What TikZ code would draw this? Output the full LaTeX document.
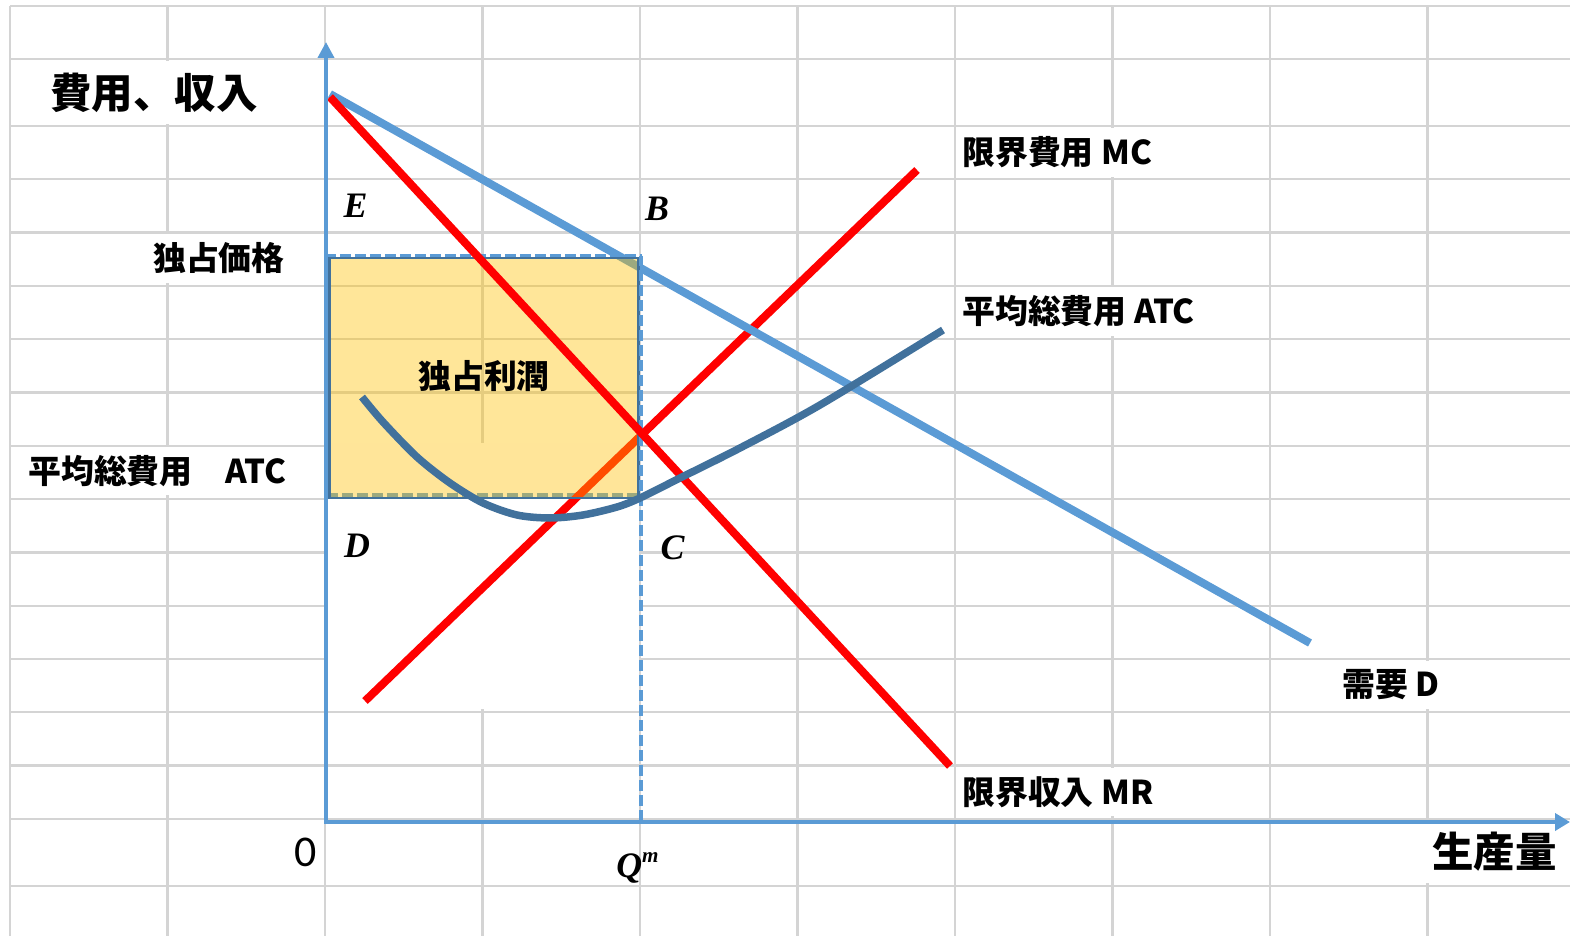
\documentclass[tikz,border=0pt]{standalone}
\usepackage{fontspec}
\newfontfamily\jpfont{Noto Sans CJK JP}
\newfontfamily\tmfont{Liberation Serif}
\newfontfamily\clfont{Carlito}
\usetikzlibrary{arrows.meta}
\definecolor{gridgray}{HTML}{D4D4D4}
\definecolor{axisblue}{HTML}{5B9BD5}
\definecolor{atcblue}{HTML}{41719C}
\definecolor{profitgold}{HTML}{FFC000}

\begin{document}
\begin{tikzpicture}[x=0.02cm,y=-0.02cm,
  cell/.style={fill=white,inner xsep=0.1cm,inner ysep=0pt,minimum height=0.98cm,font=\jpfont\bfseries\fontsize{18.7}{20}\selectfont},
  bigcell/.style={cell,minimum height=1.26cm,font=\jpfont\bfseries\fontsize{23.6}{26}\selectfont},
  ptlabel/.style={anchor=base,inner sep=0pt,font=\tmfont\bfseries\itshape\fontsize{20.4}{22}\selectfont},
  curve/.style={line width=0.16cm},
  guide/.style={axisblue,line width=0.07cm,dash pattern=on 0.22cm off 0.08cm},
  axis/.style={axisblue,line width=0.075cm}]
\useasboundingbox (0,0) rectangle (1570,936);
% sheet grid
\foreach \gx in {0,...,9} \draw[gridgray,line width=0.045cm] ({10+157.5*\gx},6) -- ({10+157.5*\gx},936);
\foreach \gy in {6,59,886} \draw[gridgray,line width=0.045cm] (10,\gy) -- (1570,\gy);
\foreach \gk in {0,...,13} \draw[gridgray,line width=0.045cm] (10,{126+53.3*\gk}) -- (1570,{126+53.3*\gk});
\fill[white] (327,443) rectangle (639,709);
% cell texts
\node[bigcell,anchor=west] (cost) at (45,92.5) {費用、収入};
\node[cell,anchor=east] (pmono) at (290,258.5) {独占価格};
\node[cell,anchor=west] (atcleft) at (23,471) {平均総費用　ATC};
\node[cell,anchor=west] (mclbl) at (957,152.5) {限界費用 MC};
\node[cell,anchor=west] (atclbl) at (957,311.5) {平均総費用 ATC};
\node[cell,anchor=west] (dlbl) at (1337,685) {需要 D};
\node[cell,anchor=west] (mrlbl) at (957,792) {限界収入 MR};
\node[bigcell,anchor=east,inner xsep=0.26cm] (qty) at (1570,852) {生産量};
\node[anchor=base east,inner sep=0pt,font=\clfont\fontsize{25}{27}\selectfont] (zero) at (317,866) {0};
\node[anchor=base west,inner sep=0pt,font=\tmfont\bfseries\itshape\fontsize{20.4}{22}\selectfont] (qm) at (616,877) {Q\raisebox{8.5pt}{\fontsize{12}{13}\selectfont m}};
% curves
\coordinate (dtop) at (330,94); \coordinate (dend) at (1310,643);
\coordinate (mrtop) at (330,97); \coordinate (mrend) at (950,766);
\coordinate (mcbot) at (365,701); \coordinate (mctop) at (917,170);
\coordinate (pa) at (329.5,258); \coordinate (pb) at (638.5,498);
\draw[guide] (327,495) -- (638,495);
\draw[curve,red] (mcbot) -- (mctop);
\draw[curve,axisblue] (dtop) -- (dend);
\draw[atcblue,line width=0.055cm,fill=profitgold,fill opacity=0.4] (pa) rectangle (pb);
\node[font=\jpfont\bfseries\fontsize{18.7}{20}\selectfont] (profit) at (484,376) {独占利潤};
\draw[guide] (325,255.5) -- (642,255.5);
\draw[guide] (641,255.5) -- (641,820);
\draw[curve,red] (mrtop) -- (mrend);
\draw[atcblue,line width=0.15cm] plot[smooth,tension=0.5] coordinates {(362,397) (383,422) (417,457) (450,483) (483,503) (517,515) (550,518) (583,515) (617,507) (640,498) (680,478) (740,448) (820,405) (943,330)};
% axes
\coordinate (O) at (326,822); \coordinate (ytip) at (326,42); \coordinate (xtip) at (1570,822);
\draw[axis,{Triangle[length=0.32cm,width=0.32cm]}-{Triangle[length=0.3cm,width=0.34cm]}] (ytip) -- (O) -- (xtip);
% points
\node[ptlabel] (E) at (355.5,217) {E};
\node[ptlabel] (B) at (657,220) {B};
\node[ptlabel] (D) at (357,557) {D};
\node[ptlabel] (C) at (672.5,559) {C};
\end{tikzpicture}
\end{document}
